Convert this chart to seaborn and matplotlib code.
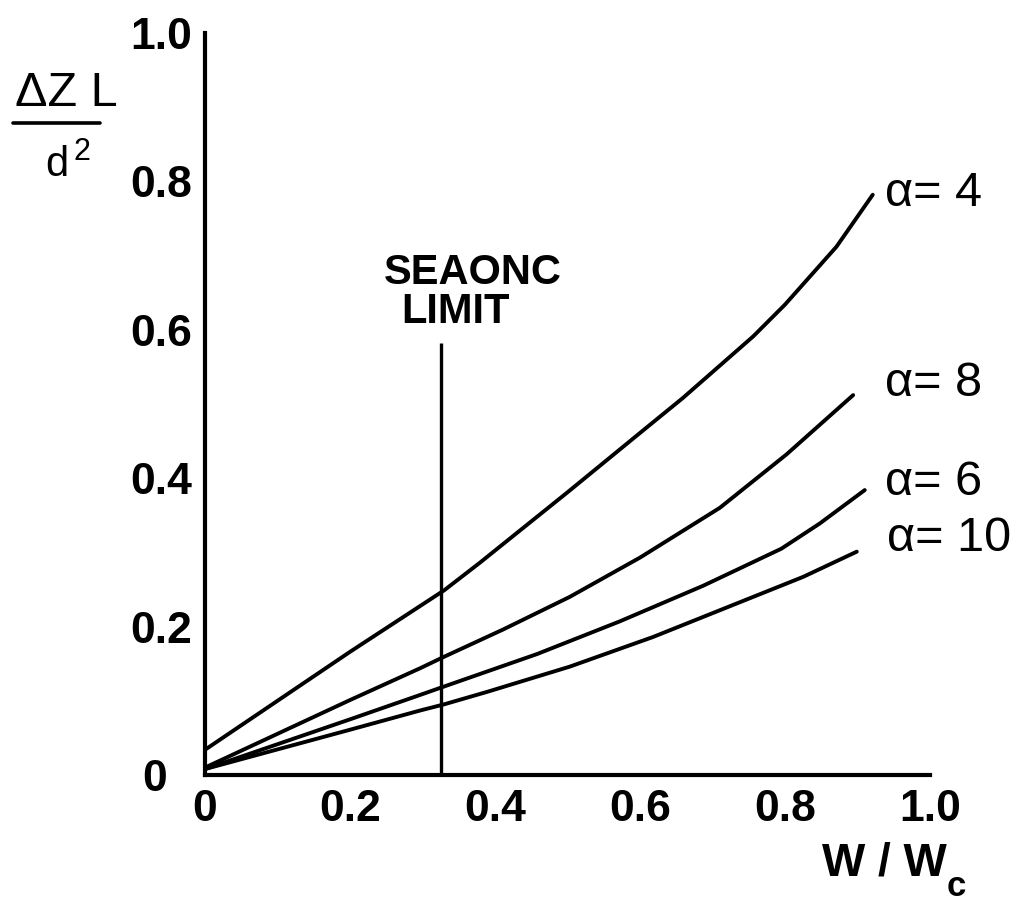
import matplotlib
matplotlib.use("Agg")
import matplotlib.pyplot as plt
from matplotlib.lines import Line2D
import seaborn as sns
import pandas as pd

# ---- data ----
x_a4 = [0.0, 0.2, 0.33, 0.379, 0.5, 0.6, 0.659, 0.756, 0.80, 0.871, 0.921]
y_a4 = [0.034, 0.166, 0.249, 0.286, 0.381, 0.461, 0.508, 0.591, 0.634, 0.712, 0.782]

x_a8 = [0.0, 0.2, 0.297, 0.329, 0.411, 0.503, 0.6, 0.710, 0.802, 0.894]
y_a8 = [0.010, 0.101, 0.144, 0.159, 0.196, 0.240, 0.293, 0.360, 0.432, 0.512]

x_a6 = [0.0, 0.2, 0.297, 0.329, 0.458, 0.572, 0.687, 0.795, 0.848, 0.910]
y_a6 = [0.008, 0.075, 0.108, 0.119, 0.163, 0.207, 0.255, 0.305, 0.339, 0.384]

x_a10 = [0.0, 0.2, 0.297, 0.329, 0.389, 0.503, 0.618, 0.733, 0.825, 0.899]
y_a10 = [0.008, 0.061, 0.087, 0.095, 0.112, 0.146, 0.186, 0.231, 0.267, 0.301]

curve_labels = ["α= 4", "α= 8", "α= 6", "α= 10"]
label_x = [0.938, 0.938, 0.938, 0.941]
label_y = [0.784, 0.528, 0.394, 0.319]

limit_x = 0.326
limit_top = 0.582

x_ticks = [0.0, 0.2, 0.4, 0.6, 0.8, 1.0]
x_tick_labels = ["0", "0.2", "0.4", "0.6", "0.8", "1.0"]
y_ticks = [0.0, 0.2, 0.4, 0.6, 0.8, 1.0]
y_tick_labels = ["0  ", "0.2", "0.4", "0.6", "0.8", "1.0"]

# ---- build table ----
frames = []
for name, xs, ys in [("α=4", x_a4, y_a4), ("α=8", x_a8, y_a8),
                     ("α=6", x_a6, y_a6), ("α=10", x_a10, y_a10)]:
    frames.append(pd.DataFrame({"x": xs, "y": ys, "curve": name}))
df = pd.concat(frames, ignore_index=True)

sns.set_theme(style="white")
plt.rcParams['font.family'] = ['Liberation Sans', 'DejaVu Sans']
plt.rcParams['text.color'] = 'black'
plt.rcParams['xtick.color'] = 'black'
plt.rcParams['ytick.color'] = 'black'
plt.rcParams['xtick.labelcolor'] = 'black'
plt.rcParams['ytick.labelcolor'] = 'black'

W, H = 1017, 906
fig = plt.figure(figsize=(W / 100, H / 100), dpi=100)
ax = fig.add_axes([205 / W, 1 - 775 / H, (930 - 205) / W, (775 - 33) / H])

sns.lineplot(data=df, x="x", y="y", hue="curve", units="curve",
             estimator=None, sort=False, palette=["black"] * 4,
             legend=False, linewidth=2.8, ax=ax)
for ln in ax.get_lines():
    ln.set_solid_joinstyle("round")

# SEAONC limit line
ax.plot([limit_x, limit_x], [0, limit_top], color="black", lw=2.4,
        solid_capstyle="butt")
ax.text(0.370, 0.677, "SEAONC", ha="center", va="center",
        fontsize=30, fontweight="bold", color="black")
ax.text(0.346, 0.624, "LIMIT", ha="center", va="center",
        fontsize=30, fontweight="bold", color="black")

for t, lx, ly in zip(curve_labels, label_x, label_y):
    ax.text(lx, ly, t, ha="left", va="center", fontsize=35,
            color="black", clip_on=False)

ax.set_xlim(0, 1)
ax.set_ylim(0, 1)
ax.set_xticks(x_ticks)
ax.set_xticklabels(x_tick_labels)
ax.set_yticks(y_ticks)
ax.set_yticklabels(y_tick_labels)
ax.set_xlabel("")
ax.set_ylabel("")
for s in ["top", "right"]:
    ax.spines[s].set_visible(False)
for s in ["left", "bottom"]:
    ax.spines[s].set_linewidth(3)
    ax.spines[s].set_color("black")
ax.tick_params(axis="x", direction="in", length=16, width=2.2,
               color="black", labelcolor="black", pad=10, labelsize=32)
ax.tick_params(axis="y", direction="in", length=14, width=2.2,
               color="black", labelcolor="black", pad=9, labelsize=32)
for lab in ax.get_xticklabels() + ax.get_yticklabels():
    lab.set_fontweight("bold")
ax.patch.set_alpha(0)

def fx(px):
    return px / W

def fy(py):
    return 1 - py / H

# y-axis label as a fraction
fig.text(fx(66), fy(94), "ΔZ L", ha="center", va="center", fontsize=35,
         color="black")
fig.add_artist(Line2D([fx(13), fx(100)], [fy(123), fy(123)],
                      color="black", lw=2.6))
fig.text(fx(57), fy(165), "d", ha="center", va="center", fontsize=30,
         color="black")
fig.text(fx(82), fy(152), "2", ha="center", va="center", fontsize=22,
         color="black")

# x-axis label
fig.text(fx(884), fy(864), "W / W", ha="center", va="center",
         fontsize=33, fontweight="bold", color="black")
fig.text(fx(956), fy(886), "c", ha="center", va="center",
         fontsize=25, fontweight="bold", color="black")

fig.savefig("out.png", dpi=100, facecolor="white")
